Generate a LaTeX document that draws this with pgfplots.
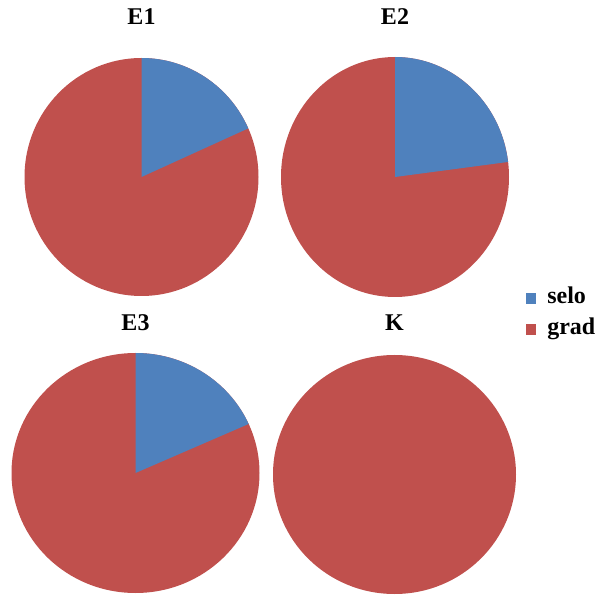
\documentclass[border=0pt]{standalone}
\usepackage{fontspec}
\setmainfont{Liberation Serif}
\usepackage{pgfplots}
\usepackage{pgfplotstable}
\pgfplotsset{compat=1.18}
\definecolor{selo}{HTML}{4F81BD}
\definecolor{grad}{HTML}{C0504D}
% name, share of selo and grad (percent), pie centre and radii (px)
\pgfplotstableread{
name selo grad cx cy rx ry ty
E1 18.3 81.7 141.5 417 117 119 577
E2 23.0 77.0 395 417 114 120 577
E3 18.3 81.7 135.5 121 124 120 271
K 0 100 394.5 119.5 121.5 119.5 271
}\pies
\begin{document}
\begin{tikzpicture}
\begin{axis}[
  hide axis, scale only axis, clip=false,
  x=0.75pt, y=0.75pt,
  xmin=0, xmax=601, ymin=0, ymax=594,
]
\addplot[draw=none] coordinates {(0,0) (601,594)};
\pgfplotsforeachungrouped \i in {0,...,3}{%
  \pgfplotstablegetelem{\i}{name}\of\pies \let\pname\pgfplotsretval
  \pgfplotstablegetelem{\i}{selo}\of\pies \let\pselo\pgfplotsretval
  \pgfplotstablegetelem{\i}{cx}\of\pies \let\pcx\pgfplotsretval
  \pgfplotstablegetelem{\i}{cy}\of\pies \let\pcy\pgfplotsretval
  \pgfplotstablegetelem{\i}{rx}\of\pies \let\prx\pgfplotsretval
  \pgfplotstablegetelem{\i}{ry}\of\pies \let\pry\pgfplotsretval
  \pgfplotstablegetelem{\i}{ty}\of\pies \let\pty\pgfplotsretval
  \pgfmathsetmacro\rxpt{0.75*\prx}
  \pgfmathsetmacro\rypt{0.75*\pry}
  \pgfmathsetmacro\endang{90-3.6*\pselo}
  \edef\temp{%
    \noexpand\fill[grad] (axis cs:\pcx,\pcy) ellipse [x radius=\rxpt pt, y radius=\rypt pt];
    \noexpand\node[font=\noexpand\bfseries\noexpand\fontsize{18}{21}\noexpand\selectfont, anchor=center] at (axis cs:\pcx,\pty) {\pname};
  }\temp
  \pgfmathparse{\pselo>0 ? 1 : 0}%
  \ifnum\pgfmathresult=1
  \edef\temp{%
    \noexpand\fill[selo] (axis cs:\pcx,\pcy) -- ++(0pt,\rypt pt) arc[start angle=90, end angle=\endang, x radius=\rxpt pt, y radius=\rypt pt] -- cycle;
  }\temp
  \fi
}
\fill[selo] (axis cs:526,290) rectangle (axis cs:536,301);
\node[anchor=base west, inner sep=0pt, font=\bfseries\fontsize{18}{21}\selectfont] at (axis cs:547,290) {selo};
\fill[grad] (axis cs:526,259) rectangle (axis cs:536,270);
\node[anchor=base west, inner sep=0pt, font=\bfseries\fontsize{18}{21}\selectfont] at (axis cs:547,259) {grad};
\end{axis}
\end{tikzpicture}
\end{document}
